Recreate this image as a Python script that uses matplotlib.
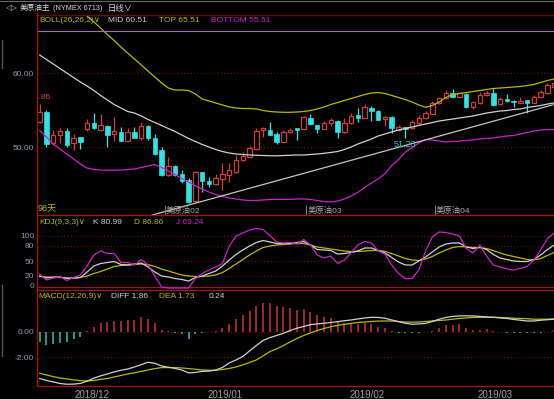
import matplotlib
matplotlib.use("Agg")
import matplotlib.pyplot as plt
import numpy as np
from matplotlib.lines import Line2D

plt.rcParams['font.family'] = ['Liberation Sans', 'Noto Sans CJK SC', 'DejaVu Sans']

# ---------------- data ----------------
opens = [53.34, 54.77, 50.5, 51.62, 52.16, 50.5, 51.3, 52.43, 53.2, 52.3,
         52.88, 51.72, 52.07, 50.85, 51.99, 51.17, 52.88, 51.26, 49.6, 46.22,
         47.43, 46.31, 45.54, 42.7, 46.58, 45.41, 44.96, 45.67, 46.22, 46.66,
         48.24, 48.7, 49.73, 52.3, 52.3, 51.72, 50.72, 51.99, 52.53, 52.43,
         53.96, 52.97, 52.43, 53.2, 53.51, 51.99, 53.2, 54.32, 53.96, 55.23,
         54.9, 53.74, 54.01, 52.3, 52.66, 52.53, 53.2, 53.88, 54.46, 55.9,
         56.58, 57.26, 56.8, 57.16, 55.36, 55.9, 57.03, 57.26, 55.81, 56.45,
         56.26, 55.99, 56.35, 55.99, 56.8, 57.26, 58.15]
highs = [55.86, 55.0, 52.3, 52.57, 52.53, 51.72, 51.3, 53.78, 54.55, 54.42,
         52.97, 54.1, 52.74, 52.53, 52.74, 53.34, 52.95, 51.72, 50.04, 48.69,
         47.6, 46.9, 45.77, 46.76, 46.6, 46.0, 46.35, 47.8, 47.8, 48.92,
         49.28, 50.18, 52.61, 52.74, 53.34, 52.07, 52.3, 52.61, 52.6, 54.2,
         54.42, 53.0, 53.5, 53.96, 53.6, 53.96, 54.55, 55.3, 55.77, 55.5,
         55.0, 54.2, 54.2, 52.97, 52.7, 53.6, 54.32, 54.9, 56.2, 56.8,
         57.7, 57.8, 57.5, 57.3, 56.1, 57.4, 57.6, 57.93, 56.7, 57.16,
         56.3, 56.7, 56.4, 57.0, 57.7, 58.6, 58.8]
lows = [53.2, 50.04, 50.27, 50.54, 50.04, 49.6, 49.73, 52.16, 52.5, 52.16,
        50.04, 50.8, 50.75, 50.8, 51.2, 51.0, 51.0, 48.9, 46.1, 46.1,
        46.1, 45.2, 42.4, 42.5, 43.96, 44.6, 44.8, 44.2, 45.3, 46.5,
        48.1, 48.5, 49.6, 51.4, 51.6, 50.36, 50.7, 51.9, 50.95, 52.3,
        53.0, 51.85, 52.4, 52.9, 51.26, 51.9, 53.1, 53.4, 53.9, 53.5,
        53.6, 52.84, 51.9, 52.1, 51.23, 52.4, 53.1, 53.8, 54.4, 55.8,
        56.5, 56.7, 56.7, 55.3, 55.2, 55.8, 56.9, 55.6, 55.7, 56.1,
        55.36, 55.9, 54.55, 55.9, 56.7, 57.2, 58.1]
closes = [54.77, 50.36, 51.62, 52.16, 50.27, 51.26, 50.7, 53.2, 52.53, 52.97,
          51.62, 52.16, 50.8, 51.99, 51.26, 52.88, 51.17, 49.0, 46.22, 47.43,
          46.22, 45.41, 42.6, 46.58, 45.41, 44.96, 45.77, 46.31, 46.9, 48.24,
          48.82, 49.82, 52.16, 52.53, 51.62, 50.72, 52.07, 52.3, 52.26, 54.1,
          53.07, 52.39, 53.2, 53.65, 52.07, 53.2, 54.23, 53.96, 55.45, 54.86,
          53.65, 54.01, 52.53, 52.66, 52.39, 53.42, 53.96, 54.55, 55.9, 56.58,
          57.34, 56.8, 57.26, 55.36, 56.04, 57.03, 57.26, 55.68, 56.45, 56.22,
          56.08, 56.26, 55.99, 56.8, 57.47, 58.38, 58.6]

boll_mid = [62.43, 61.82, 61.22, 60.61, 60.0, 59.39, 58.78, 58.24, 57.64, 56.96,
            56.35, 55.74, 55.27, 54.8, 54.59, 54.19, 53.72, 53.31, 52.91, 52.5,
            52.09, 51.62, 51.15, 50.74, 50.34, 50.0, 49.66, 49.39, 49.19, 49.05,
            48.99, 48.92, 48.88, 48.85, 48.82, 48.81, 48.85, 48.88, 48.92, 48.92,
            48.99, 49.05, 49.15, 49.26, 49.39, 49.66, 50.0, 50.41, 50.74, 51.08,
            51.49, 51.76, 52.03, 52.3, 52.5, 52.7, 52.91, 53.11, 53.31, 53.51,
            53.65, 53.78, 53.92, 54.05, 54.19, 54.39, 54.59, 54.73, 54.86, 54.93,
            55.07, 55.14, 55.34, 55.47, 55.61, 55.81, 55.95]
boll_top = [73.2, 72.4, 71.7, 70.9, 70.1, 69.3, 68.5, 67.7, 66.9, 66.08,
            65.2, 64.39, 63.51, 62.7, 61.89, 61.08, 60.27, 59.46, 58.65, 57.97,
            57.7, 57.7, 57.64, 57.16, 56.49, 56.22, 55.95, 55.68, 55.41, 55.27,
            55.2, 55.2, 55.14, 54.93, 54.8, 54.73, 54.69, 54.69, 54.73, 54.8,
            54.93, 55.14, 55.41, 55.74, 56.01, 56.28, 56.55, 56.82, 57.09, 57.3,
            57.36, 57.23, 56.96, 56.69, 56.42, 56.08, 55.68, 55.36, 55.61, 56.08,
            56.69, 57.09, 57.23, 57.36, 57.5, 57.64, 57.77, 57.91, 57.97, 58.04,
            58.11, 58.18, 58.31, 58.45, 58.72, 58.99, 59.19]
boll_bot = [52.23, 51.35, 50.41, 49.73, 49.05, 48.38, 47.7, 47.16, 46.96, 46.89,
            46.86, 46.86, 46.89, 46.96, 47.03, 47.23, 47.43, 47.64, 47.23, 46.76,
            46.28, 45.74, 45.27, 44.73, 44.32, 43.92, 43.58, 43.31, 43.11, 42.97,
            42.84, 42.77, 42.77, 42.84, 42.91, 42.91, 42.91, 42.93, 42.97, 42.97,
            42.91, 42.77, 42.64, 42.57, 42.7, 42.97, 43.38, 43.85, 44.53, 45.14,
            45.68, 46.42, 47.5, 48.31, 49.32, 49.93, 50.54, 51.01, 50.95, 50.81,
            50.68, 50.74, 50.81, 50.88, 50.95, 51.08, 51.15, 51.22, 51.35, 51.49,
            51.55, 51.76, 51.96, 52.16, 52.3, 52.36, 52.36]
trend_x = [16.6, 75.8]
trend_y = [40.8, 55.7]

kdj_k = [20, 16, 18, 18, 15, 16, 17, 28, 40, 45,
         47, 49, 43, 42, 44, 46, 38, 28, 20, 18,
         15, 13, 10, 17, 20, 25, 30, 40, 52, 63,
         72, 80, 87, 91, 88, 85, 85, 85, 87, 89,
         82, 73, 72, 71, 64, 65, 67, 70, 76, 76,
         71, 66, 57, 48, 42, 42, 50, 58, 68, 78,
         84, 86, 86, 78, 75, 77, 73, 63, 56, 53,
         50, 49, 49, 53, 62, 73, 82]
kdj_d = [19, 18, 17, 17, 16, 16, 17, 20, 25, 29,
         34, 39, 41, 42, 43, 44, 43, 39, 34, 30,
         26, 22, 20, 19, 19, 20, 22, 27, 35, 44,
         53, 62, 70, 77, 80, 82, 83, 84, 85, 85,
         82, 78, 76, 74, 72, 70, 69, 69, 70, 71,
         71, 69, 65, 60, 55, 52, 51, 54, 59, 66,
         72, 77, 79, 78, 77, 77, 75, 71, 66, 62,
         59, 56, 53, 52, 55, 61, 67]
kdj_j = [24, 12, 16, 19, 11, 17, 22, 40, 62, 70,
         65, 65, 47, 47, 42, 53, 42, 20, -2, -4,
         -4, -4, -4, 15, 25, 32, 38, 45, 80, 100,
         106, 112, 115, 113, 101, 88, 86, 87, 84, 93,
         82, 62, 56, 60, 45, 52, 66, 82, 89, 86,
         70, 64, 42, 25, 15, 15, 32, 70, 98, 108,
         107, 104, 100, 75, 66, 82, 60, 42, 38, 34,
         32, 35, 39, 52, 72, 95, 106]

macd_diff = [-3.69, -3.84, -3.96, -4.08, -4.14, -4.13, -4.08, -3.90, -3.66, -3.48,
             -3.33, -3.17, -3.04, -2.94, -2.78, -2.60, -2.41, -2.49, -2.70, -2.80,
             -2.90, -3.02, -3.25, -3.21, -3.13, -3.11, -3.02, -2.82, -2.46, -2.23,
             -1.95, -1.52, -1.09, -0.69, -0.47, -0.30, -0.13, 0.09, 0.27, 0.41,
             0.55, 0.61, 0.66, 0.72, 0.79, 0.86, 0.92, 1.00, 1.08, 1.13,
             1.12, 1.06, 0.92, 0.79, 0.66, 0.58, 0.61, 0.65, 0.80, 0.98,
             1.12, 1.20, 1.24, 1.25, 1.24, 1.20, 1.16, 1.13, 1.08, 1.04,
             0.96, 0.90, 0.84, 0.84, 0.90, 0.94, 0.98]
macd_dea = [-3.28, -3.41, -3.54, -3.65, -3.72, -3.80, -3.86, -3.88, -3.84, -3.76,
            -3.69, -3.57, -3.45, -3.33, -3.24, -3.13, -3.02, -2.91, -2.83, -2.83,
            -2.83, -2.86, -2.91, -2.96, -3.02, -3.04, -3.04, -2.98, -2.90, -2.78,
            -2.62, -2.43, -2.23, -1.91, -1.57, -1.36, -1.09, -0.81, -0.54, -0.30,
            -0.10, 0.09, 0.25, 0.39, 0.49, 0.57, 0.65, 0.72, 0.76, 0.80,
            0.83, 0.84, 0.84, 0.80, 0.76, 0.74, 0.76, 0.80, 0.84, 0.88,
            0.92, 0.98, 1.04, 1.08, 1.12, 1.13, 1.13, 1.13, 1.12, 1.09,
            1.06, 1.04, 1.02, 0.98, 0.98, 0.98, 1.00]
macd_hist = [-0.8, -1.05, -1.0, -0.92, -0.84, -0.6, -0.4, 0.05, 0.37, 0.71,
             0.74, 0.82, 0.8, 0.9, 0.92, 1.13, 1.0, 0.66, 0.13, 0.03,
             -0.07, -0.15, -0.6, -0.15, -0.08, -0.02, 0.05, 0.3, 0.6, 0.97,
             1.3, 1.6, 2.02, 2.23, 2.23, 2.05, 1.91, 1.84, 1.71, 1.76,
             1.57, 1.31, 1.16, 1.05, 0.73, 0.65, 0.65, 0.61, 0.65, 0.57,
             0.39, 0.26, 0.02, -0.1, -0.12, -0.1, -0.1, -0.05, 0.05, 0.3,
             0.5, 0.55, 0.6, 0.26, 0.15, 0.15, 0.2, 0.05, -0.05, -0.08,
             -0.1, -0.1, -0.1, -0.1, -0.08, 0.0, 0.1]

month_labels = ['2018/12', '2019/01', '2019/02', '2019/03']
month_pos = [7.8, 27.4, 48.3, 67.3]
roll_labels = ['美原油02', '美原油03', '美原油04']
roll_pos = [18.5, 39.4, 58.4]

# ---------------- style ----------------
W, H, DPI = 554, 399, 100
RED = '#d23c3c'
CYAN = '#2fe3e3'
WHITE = '#d0d0d0'
YEL = '#b8b800'
MAG = '#c822c8'
GRID = '#7a0a0a'
BORDER = '#9e1414'
LABEL = '#8c9bb0'

fig = plt.figure(figsize=(W / DPI, H / DPI), dpi=DPI, facecolor='black')


def add_ax(top, bottom, left=37, right=554):
    ax = fig.add_axes([left / W, 1 - bottom / H, (right - left) / W, (bottom - top) / H])
    ax.set_facecolor('black')
    for s in ax.spines.values():
        s.set_visible(False)
    ax.set_xlim(-0.4, 75.97)
    ax.tick_params(axis='both', length=0, labelsize=6, labelcolor=LABEL, pad=2)
    ax.set_xticks([])
    return ax


def ftext(x, y, s, color, size=6, ha='left', **kw):
    fig.text(x / W, 1 - y / H, s, color=color, fontsize=size, ha=ha, va='center', **kw)


def fline(x0, y0, x1, y1, color, lw=1.0, ls='-'):
    fig.add_artist(Line2D([x0 / W, x1 / W], [1 - y0 / H, 1 - y1 / H], color=color, lw=lw, ls=ls,
                          transform=fig.transFigure))


ax_p = add_ax(15, 215)
ax_k = add_ax(215, 290)
ax_m = add_ax(290, 386)

ax_p.set_ylim(40.81, 67.84)
ax_k.set_ylim(-8, 142)
ax_m.set_ylim(-4.28, 3.28)

idx = np.arange(len(opens))
o, h, l, c = (np.array(a, dtype=float) for a in (opens, highs, lows, closes))
up = c > o

# ---- price panel ----
for v in (50, 60):
    ax_p.axhline(v, color=GRID, lw=0.8, ls=(0, (1, 2)), zorder=1)
ax_p.set_yticks([50, 60])
ax_p.set_yticklabels(['50.00', '60.00'])

ax_p.vlines(idx[up], l[up], h[up], colors=RED, lw=0.9, zorder=3)
ax_p.vlines(idx[~up], l[~up], h[~up], colors=CYAN, lw=0.9, zorder=3)
ax_p.bar(idx[up], c[up] - o[up], bottom=o[up], width=0.66, facecolor='black',
         edgecolor=RED, lw=0.9, zorder=4)
ax_p.bar(idx[~up], np.maximum(o[~up] - c[~up], 0.04), bottom=c[~up], width=0.66,
         facecolor=CYAN, edgecolor=CYAN, lw=0.5, zorder=4)

ax_p.plot(idx, boll_mid, color=WHITE, lw=0.9, zorder=5)
ax_p.plot(idx, boll_top, color=YEL, lw=0.9, zorder=5)
ax_p.plot(idx, boll_bot, color=MAG, lw=0.9, zorder=5)
ax_p.plot(trend_x, trend_y, color='#c4c4c4', lw=0.9, zorder=5)

ax_p.text(0, highs[0] + 0.8, f'{highs[0]:.2f}', color='#e04040', fontsize=6, ha='center',
          va='center', clip_on=True, zorder=6)
ax_p.text(54, lows[54] - 0.9, f'{lows[54]:.2f}', color='#36c8c8', fontsize=6.5, ha='center',
          va='center', zorder=6)
ax_p.text(-0.25, 41.7, '98天', color='#b8b020', fontsize=6.5, ha='left', va='center', zorder=6)
for lab, pos in zip(roll_labels, roll_pos):
    ax_p.vlines(pos, 40.81, 42.2, colors='#808080', lw=0.7, zorder=6)
    ax_p.text(pos + 0.15, 41.3, lab, color='#a8a8a8', fontsize=6, ha='left', va='center', zorder=6)

# ---- KDJ panel ----
for v in (20, 50, 80, 100):
    ax_k.axhline(v, color=GRID, lw=0.8, ls=(0, (1, 2)), zorder=1)
ax_k.axhline(-1.5, color=BORDER, lw=0.9, zorder=1)
ax_k.set_yticks([0, 20, 50, 80, 100])
ax_k.set_yticklabels(['0', '20', '50', '80', '100'])
ax_k.plot(idx, kdj_d, color=YEL, lw=0.9, zorder=3)
ax_k.plot(idx, kdj_k, color=WHITE, lw=0.9, zorder=4)
ax_k.plot(idx, kdj_j, color=MAG, lw=0.9, zorder=5)

# ---- MACD panel ----
for v in (0, -2):
    ax_m.axhline(v, color=GRID, lw=0.8, ls=(0, (1, 2)), zorder=1)
ax_m.set_yticks([0, -2])
ax_m.set_yticklabels(['0.00', '-2.00'])
hist = np.array(macd_hist)
ax_m.vlines(idx[hist >= 0], 0, hist[hist >= 0], colors='#c83434', lw=1.1, zorder=3)
ax_m.vlines(idx[hist < 0], 0, hist[hist < 0], colors='#22c4c4', lw=1.1, zorder=3)
ax_m.plot(idx, macd_dea, color=YEL, lw=0.9, zorder=4)
ax_m.plot(idx, macd_diff, color=WHITE, lw=0.9, zorder=5)
ax_m.set_xticks(month_pos)
ax_m.set_xticklabels(month_labels)
ax_m.tick_params(axis='x', labelsize=7, labelcolor='#a0a0a0', pad=3)

# ---- frame lines ----
fline(0, 0.5, 554, 0.5, '#6a6a6a', lw=0.8)
fline(37, 15, 554, 15, '#5e0c0c', lw=1.0)
fline(37, 31, 554, 31, '#a070b4', lw=0.8)
fline(37, 215, 554, 215, BORDER, lw=1.0)
fline(37, 290, 554, 290, BORDER, lw=1.0)
fline(37, 386, 554, 386, BORDER, lw=1.0)
fline(37, 13, 37, 386, BORDER, lw=1.0)
fline(1.5, 40, 1.5, 68, '#555555', lw=1.0)
fline(1.5, 285, 1.5, 356, '#555555', lw=1.0)

# ---- headers ----
ftext(6, 8, '◁▷', '#c8c8c8', size=5.5, family=['DejaVu Sans'])
ftext(20, 8, '美原油主', '#d8d8d8', size=5.5, family=['Noto Sans CJK SC', 'DejaVu Sans'])
ftext(53, 8.5, '(NYMEX 6713)', '#d8d8d8', size=5.2)
ftext(108, 8, '日线∨', '#d8d8d8', size=6, family=['Noto Sans CJK SC', 'DejaVu Sans'])

ftext(39, 21, 'BOLL(26,26,2)∨', YEL, family=['Liberation Sans', 'DejaVu Sans'])
ftext(108, 21, 'MID 60.51', WHITE)
ftext(159, 21, 'TOP 65.51', YEL)
ftext(211, 21, 'BOTTOM 55.51', '#d020d0')

ftext(39, 222, 'KDJ(9,3,3)∨', YEL, family=['Liberation Sans', 'DejaVu Sans'])
ftext(93, 222, 'K 80.99', WHITE)
ftext(134, 222, 'D 86.86', YEL)
ftext(176, 222, 'J 69.24', '#d020d0')

ftext(38, 296, 'MACD(12,26,9)∨', YEL, family=['Liberation Sans', 'DejaVu Sans'])
ftext(111, 296, 'DIFF 1.86', WHITE)
ftext(159, 296, 'DEA 1.73', YEL)
ftext(209, 296, '0.24', WHITE)

fig.savefig('out.png', dpi=DPI, facecolor='black')
